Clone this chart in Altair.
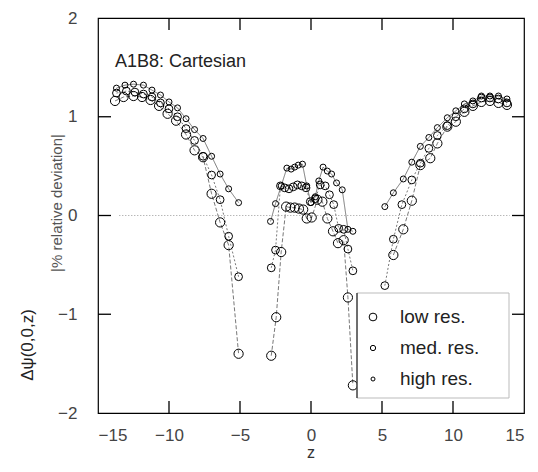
import altair as alt
import pandas as pd

# ---------------- data ----------------
series_names = ["low res.", "med. res.", "high res."]

low_z_left = [-13.8, -13.2, -12.5, -11.9, -11.3, -10.7, -10.1, -9.5, -8.8, -8.2, -7.6, -7.0, -6.4, -5.8, -5.1]
low_v_left = [1.16, 1.20, 1.21, 1.20, 1.17, 1.11, 1.03, 0.96, 0.82, 0.66, 0.59, 0.22, -0.07, -0.30, -1.40]
med_z_left = [-13.7, -13.0, -12.4, -11.8, -11.2, -10.6, -10.0, -9.4, -8.8, -8.2, -7.6, -7.0, -6.4, -5.8, -5.1]
med_v_left = [1.24, 1.26, 1.25, 1.23, 1.20, 1.14, 1.08, 1.00, 0.88, 0.76, 0.60, 0.41, 0.16, -0.21, -0.62]
high_z_left = [-13.7, -13.1, -12.5, -11.8, -11.2, -10.6, -10.0, -9.4, -8.8, -8.2, -7.6, -7.0, -6.4, -5.8, -5.1]
high_v_left = [1.29, 1.32, 1.33, 1.32, 1.27, 1.22, 1.15, 1.09, 0.98, 0.87, 0.78, 0.60, 0.42, 0.27, 0.13]

low_z_c = [-2.8, -2.45, -2.1, -1.75, -1.45, -1.15, -0.85, -0.55, -0.3, 0.05, 0.45, 0.8, 1.15, 1.55, 1.9, 2.3, 2.6, 2.95]
low_v_c = [-1.42, -1.03, -0.37, 0.09, 0.08, 0.08, 0.07, 0.06, -0.03, -0.02, 0.16, 0.14, -0.03, -0.16, -0.28, -0.25, -0.83, -1.72]
med_z_c = [-2.8, -2.5, -2.15, -1.85, -1.55, -1.25, -0.95, -0.65, -0.35, -0.05, 0.3, 0.65, 1.0, 1.3, 1.6, 1.95, 2.3, 2.6, 2.95]
med_v_c = [-0.53, -0.35, 0.30, 0.28, 0.27, 0.29, 0.31, 0.30, 0.28, 0.14, 0.17, 0.31, 0.30, 0.21, 0.11, -0.13, -0.14, -0.34, -0.56]
high_z_c = [-2.85, -2.5, -2.1, -1.7, -1.4, -1.15, -0.9, -0.6, -0.3, 0.0, 0.3, 0.55, 0.85, 1.15, 1.45, 1.8, 2.2, 2.6, 2.95]
high_v_c = [-0.06, 0.12, 0.30, 0.48, 0.47, 0.49, 0.51, 0.52, 0.30, 0.13, 0.19, 0.35, 0.49, 0.45, 0.42, 0.33, 0.26, -0.14, -0.16]

low_z_right = [5.8, 6.5, 7.1, 7.7, 8.4, 8.9, 9.6, 10.2, 10.8, 11.4, 12.0, 12.6, 13.2, 13.8]
low_v_right = [-0.40, -0.14, 0.15, 0.51, 0.58, 0.73, 0.90, 0.95, 1.05, 1.11, 1.15, 1.16, 1.14, 1.12]
med_z_right = [5.2, 5.8, 6.4, 7.1, 7.7, 8.3, 8.9, 9.6, 10.2, 10.8, 11.4, 12.0, 12.6, 13.2, 13.8]
med_v_right = [-0.71, -0.24, 0.11, 0.36, 0.53, 0.68, 0.81, 0.91, 1.00, 1.08, 1.13, 1.19, 1.19, 1.18, 1.14]
high_z_right = [5.2, 5.8, 6.5, 7.1, 7.7, 8.3, 8.9, 9.6, 10.2, 10.8, 11.4, 12.0, 12.6, 13.2, 13.8]
high_v_right = [0.09, 0.23, 0.37, 0.54, 0.70, 0.79, 0.89, 0.99, 1.06, 1.13, 1.16, 1.21, 1.21, 1.21, 1.18]

x_tick_labels = [-15, -10, -5, 0, 5, 10, 15]
y_tick_labels = [-2, -1, 0, 1, 2]
x_inner_ticks = [-10, -5, 0, 5, 10]
y_inner_ticks = [-1, 0, 1]

# ---------------- build table ----------------
rows = []
segments = [
    ("low res.", "L", low_z_left, low_v_left), ("low res.", "C", low_z_c, low_v_c), ("low res.", "R", low_z_right, low_v_right),
    ("med. res.", "L", med_z_left, med_v_left), ("med. res.", "C", med_z_c, med_v_c), ("med. res.", "R", med_z_right, med_v_right),
    ("high res.", "L", high_z_left, high_v_left), ("high res.", "C", high_z_c, high_v_c), ("high res.", "R", high_z_right, high_v_right),
]
for s, seg, zs, vs in segments:
    for z, v in zip(zs, vs):
        rows.append({"z": z, "v": v, "series": s, "seg": s + seg})
df = pd.DataFrame(rows)

W, H = 426, 395
FONT = "Liberation Sans"
xs = alt.Scale(domain=[-15, 15], nice=False, zero=False)
ys = alt.Scale(domain=[-2, 2], nice=False, zero=False)

x_axis = alt.Axis(values=x_tick_labels, ticks=False, domain=False, grid=False,
                  labelFontSize=17, labelColor="#444", labelFont=FONT, labelPadding=14,
                  title="")
y_axis = alt.Axis(values=y_tick_labels, ticks=False, domain=False, grid=False,
                  labelFontSize=17, labelColor="#444", labelFont=FONT, labelPadding=21,
                  title="")

base = alt.Chart(df)
lines = base.mark_line(strokeWidth=0.8, color="#555").encode(
    x=alt.X("z:Q", scale=xs, axis=x_axis),
    y=alt.Y("v:Q", scale=ys, axis=y_axis),
    detail="seg:N",
    strokeDash=alt.StrokeDash("series:N", scale=alt.Scale(domain=series_names, range=[[4, 2], [2, 2], [1, 0]]), legend=None),
)

points = base.mark_point(filled=False, color="black", strokeWidth=1, opacity=1).encode(
    x=alt.X("z:Q", scale=xs, axis=x_axis),
    y=alt.Y("v:Q", scale=ys, axis=y_axis),
    size=alt.Size("series:N", scale=alt.Scale(domain=series_names, range=[85, 36, 17]), legend=None),
)

zero_df = pd.DataFrame({"z": [-13.5], "z1": [14.0], "v": [0]})
zero_line = alt.Chart(zero_df).mark_rule(color="#999", strokeDash=[1, 2], strokeWidth=1).encode(
    x=alt.X("z:Q", scale=xs, axis=x_axis), x2="z1:Q", y=alt.Y("v:Q", scale=ys, axis=y_axis))

xt = alt.Chart(pd.DataFrame({"z": x_inner_ticks}))
yt = alt.Chart(pd.DataFrame({"v": y_inner_ticks}))
tk = dict(color="black", strokeWidth=1.3)
top_ticks = xt.mark_rule(**tk).encode(x=alt.X("z:Q", scale=xs, axis=x_axis), y=alt.value(0), y2=alt.value(12))
bot_ticks = xt.mark_rule(**tk).encode(x=alt.X("z:Q", scale=xs, axis=x_axis), y=alt.value(H), y2=alt.value(H - 12))
left_ticks = yt.mark_rule(**tk).encode(y=alt.Y("v:Q", scale=ys, axis=y_axis), x=alt.value(0), x2=alt.value(13))
right_ticks = yt.mark_rule(**tk).encode(y=alt.Y("v:Q", scale=ys, axis=y_axis), x=alt.value(W), x2=alt.value(W - 12))

one = alt.Chart(pd.DataFrame({"a": [0]}))
leg_box = one.mark_rect(fill="white", stroke="#bbb", strokeWidth=1).encode(
    x=alt.value(259), x2=alt.value(411), y=alt.value(275), y2=alt.value(380))
leg_edge = one.mark_rule(color="black", strokeWidth=1).encode(x=alt.value(259), y=alt.value(275), y2=alt.value(380))

leg_layers = []
leg_sizes = [60, 28, 16]
leg_y = [299, 330, 361]
for name, s, yy in zip(series_names, leg_sizes, leg_y):
    leg_layers.append(one.mark_point(filled=False, color="black", strokeWidth=1, size=s, opacity=1).encode(
        x=alt.value(275), y=alt.value(yy)))
    leg_layers.append(one.mark_text(align="left", baseline="middle", fontSize=19, font=FONT, color="#222").encode(
        x=alt.value(302), y=alt.value(yy), text=alt.value(name)))

title_txt = one.mark_text(align="left", baseline="middle", fontSize=18, font=FONT, color="#222").encode(
    x=alt.value(17), y=alt.value(44), text=alt.value("A1B8: Cartesian"))
ytitle1 = one.mark_text(angle=270, baseline="middle", fontSize=17, font=FONT, color="#222").encode(
    x=alt.value(-70), y=alt.value(327), text=alt.value("Δψ(0,0,z)"))
ytitle2 = one.mark_text(angle=270, baseline="middle", fontSize=15, font=FONT, color="#555").encode(
    x=alt.value(-41), y=alt.value(185), text=alt.value("|% relative deviation|"))
xtitle = one.mark_text(align="center", baseline="alphabetic", fontSize=16, font=FONT, color="#333").encode(
    x=alt.value(W / 2), y=alt.value(H + 45), text=alt.value("z"))

chart = alt.layer(
    lines, zero_line, points, top_ticks, bot_ticks, left_ticks, right_ticks,
    leg_box, leg_edge, *leg_layers, title_txt, ytitle1, ytitle2, xtitle
).properties(
    width=W, height=H,
    autosize=alt.AutoSizeParams(type="none"),
    padding={"left": 90, "top": 10, "right": 6, "bottom": 51},
).configure_view(stroke="black", strokeWidth=1.2)

chart.save("out.html", embed_options={"renderer": "svg", "actions": False})
